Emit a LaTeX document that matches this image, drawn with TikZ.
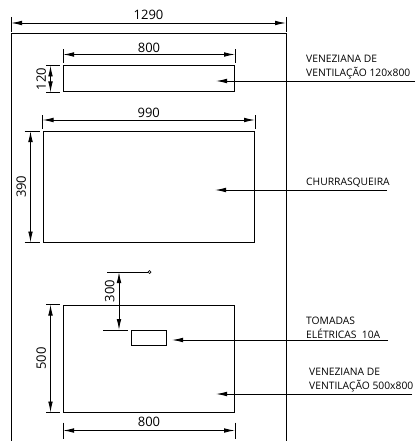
\documentclass[tikz,border=0pt]{standalone}
\usepackage{fontspec}
\setmainfont{Open Sans}
\usetikzlibrary{arrows.meta,positioning}

\begin{document}
\begin{tikzpicture}[
    x=1pt,
    y=-1pt,
    >={Latex[length=11pt,width=4.6pt]},
    font=\fontsize{13}{15}\selectfont,
    opening/.style={
		rectangle,
		draw=black,
		line width=1pt,
		inner sep=0pt,
		fill=white
	},
	dim/.style={
		<->,
		line width=0.9pt
	},
	tick/.style={
		line width=0.9pt
	},
	leader/.style={
		->,
		line width=0.9pt
	},
	note/.style={
		font=\fontsize{10.3}{14}\selectfont,
		align=left,
		anchor=south west,
		inner sep=0pt
	},
	dimtext/.style={
		inner sep=0pt
	}
  ]
  \useasboundingbox (0,0) rectangle (415,441);

  % wall outline, open at the bottom
  \coordinate (wallsw) at (11,441);
  \coordinate (wallnw) at (11,34);
  \coordinate (wallne) at (286,34);
  \coordinate (wallse) at (286,441);
  \draw [line width=1pt] (wallsw) -- (wallnw) -- (wallne) -- (wallse);

  % openings
  \node [opening, minimum width=171pt, minimum height=26pt] (vent1) at (149,79) {};
  \node [opening, minimum width=211.5pt, minimum height=110.5pt] (grill) at (148.75,186.75) {};
  \node [opening, minimum width=171pt, minimum height=107pt] (vent2) at (149,358.5) {};
  \node [opening, minimum width=35pt, minimum height=15.5pt] (socket) at (149,337.75) {};

  % wall width
  \draw [tick] ([yshift=17pt]wallnw) -- ([yshift=2pt]wallnw);
  \draw [tick] ([yshift=17pt]wallne) -- ([yshift=2pt]wallne);
  \draw [dim] ([yshift=11pt]wallnw) -- node [dimtext, above=2.5pt] {1290} ([yshift=11pt]wallne);

  % upper vent
  \draw [tick] ([yshift=16pt]vent1.north west) -- ([yshift=2pt]vent1.north west);
  \draw [tick] ([yshift=16pt]vent1.north east) -- ([yshift=2pt]vent1.north east);
  \draw [dim] ([yshift=11pt]vent1.north west) -- node [dimtext, above=1.5pt] {800} ([yshift=11pt]vent1.north east);
  \draw [tick] ([xshift=-17pt]vent1.north west) -- ([xshift=-3pt]vent1.north west);
  \draw [tick] ([xshift=-17pt]vent1.south west) -- ([xshift=-3pt]vent1.south west);
  \draw [dim] ([xshift=-12.5pt]vent1.north west) -- node [dimtext, left=4pt, rotate=90, anchor=south] {120} ([xshift=-12.5pt]vent1.south west);

  % barbecue
  \draw [tick] ([yshift=16pt]grill.north west) -- ([yshift=2pt]grill.north west);
  \draw [tick] ([yshift=16pt]grill.north east) -- ([yshift=2pt]grill.north east);
  \draw [dim] ([yshift=11pt]grill.north west) -- node [dimtext, above=2pt] {990} ([yshift=11pt]grill.north east);
  \draw [tick] ([xshift=-18pt]grill.north west) -- ([xshift=-3pt]grill.north west);
  \draw [tick] ([xshift=-18pt]grill.south west) -- ([xshift=-3pt]grill.south west);
  \draw [dim] ([xshift=-12pt]grill.north west) -- node [dimtext, left=4pt, rotate=90, anchor=south] {390} ([xshift=-12pt]grill.south west);

  % lower vent
  \draw [tick] ([xshift=-17pt]vent2.north west) -- ([xshift=-3pt]vent2.north west);
  \draw [tick] ([xshift=-17pt]vent2.south west) -- ([xshift=-3pt]vent2.south west);
  \draw [dim] ([xshift=-12.5pt]vent2.north west) -- node [dimtext, left=4pt, rotate=90, anchor=south] {500} ([xshift=-12.5pt]vent2.south west);
  \draw [tick] ([yshift=-3pt]vent2.south west) ++(0,7) -- ++(0,16);
  \draw [tick] ([yshift=-3pt]vent2.south east) ++(0,7) -- ++(0,16);
  \draw [dim] ([yshift=-18pt]vent2.south west) -- node [dimtext, above=3pt] {800} ([yshift=-18pt]vent2.south east);

  % socket height
  \node [circle, draw, line width=0.7pt, inner sep=0pt, minimum size=3pt] (ref) at (149.5,272) {};
  \coordinate (refleft) at (107,272);
  \coordinate (reftop) at (119,272);
  \coordinate (socketlevel) at (119,330);
  \coordinate (levelleft) at (103,330);
  \coordinate (levelright) at (128,330);
  \draw [tick] (refleft) -- (ref);
  \draw [tick] (levelleft) -- (levelright);
  \draw [dim] (reftop) -- node [dimtext, left=4pt, rotate=90, anchor=south, pos=0.33] {300} (socketlevel);

  % notes
  \coordinate (end1) at (415,81);
  \coordinate (end2) at (387,190);
  \coordinate (end3) at (388,340);
  \coordinate (end4) at (412,394);
  \coordinate (tip1) at (216,81);
  \coordinate (tip2) at (215,190);
  \coordinate (tip3) at (172,340);
  \coordinate (tip4) at (216,394);

  \draw [leader] (end1) -- (tip1);
  \draw [leader] (end2) -- (tip2);
  \draw [leader] (end3) -- (tip3);
  \draw [leader] (end4) -- (tip4);

  \node [note] (note1) at (306,79) {VENEZIANA DE\\VENTILAÇÃO 120x800};
  \node [note] (note2) at (306,187) {CHURRASQUEIRA};
  \node [note] (note3) at (306,339) {TOMADAS\\ELÉTRICAS\ \ 10A};
  \node [note] (note4) at (309,392) {VENEZIANA DE\\VENTILAÇÃO 500x800};

\end{tikzpicture}
\end{document}
